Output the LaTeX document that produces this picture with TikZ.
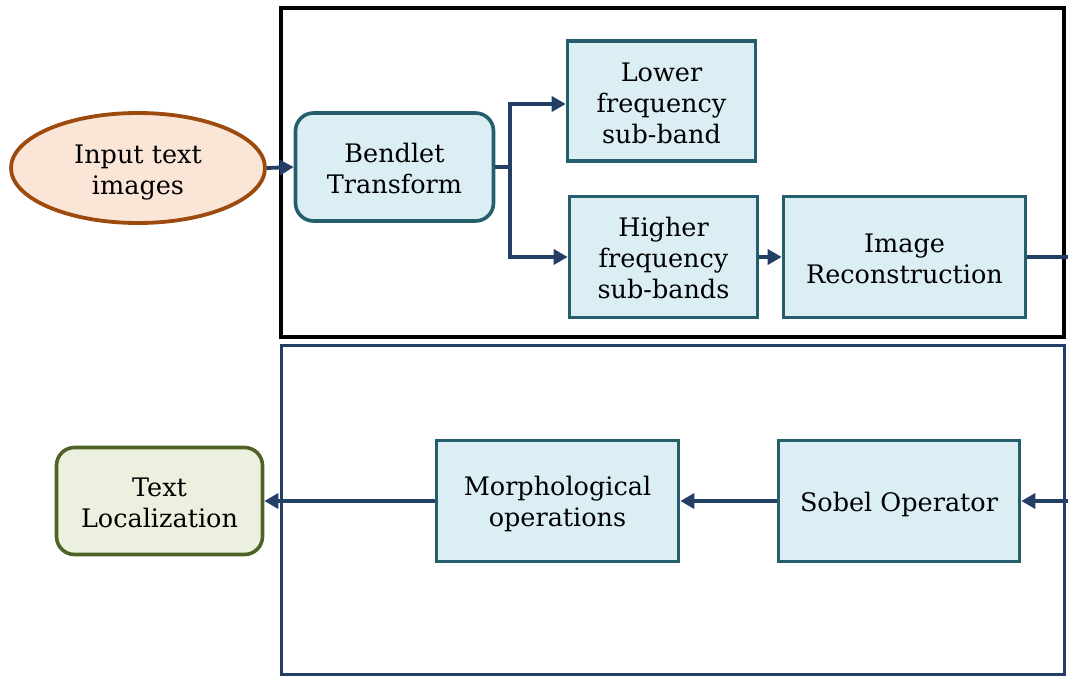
\documentclass[tikz,border=0pt]{standalone}
\usepackage{fontspec}
\setmainfont{DejaVu Serif}
\usetikzlibrary{shapes.geometric,arrows.meta}
\definecolor{navy}{HTML}{243F66}
\definecolor{teal}{HTML}{255E6D}
\definecolor{boxfill}{HTML}{DAEEF3}
\definecolor{ellfill}{HTML}{FBE5D6}
\definecolor{ellline}{HTML}{9C4A0E}
\definecolor{grfill}{HTML}{EBF1DE}
\definecolor{grline}{HTML}{4F6228}
\tikzset{
  txt/.style={align=center,font=\fontsize{25.5}{31}\selectfont,inner sep=0pt},
  sqbox/.style={draw=teal,fill=boxfill,line width=3.6pt,rectangle},
  rbox/.style={sqbox,rounded corners=18pt},
  conn/.style={draw=navy,line width=3.8pt,-{Triangle[length=14pt,width=15pt]}},
  plain/.style={draw=navy,line width=3.8pt},
}
\begin{document}
\begin{tikzpicture}[x=1pt,y=-1pt]
\useasboundingbox (0,0) rectangle (1068,675);
% frames
\draw[black,line width=3.8pt] (281,8) rectangle (1064,337);
\draw[navy,line width=3pt] (281,345) rectangle (1064,674);
% shapes
\node[ellipse,draw=ellline,fill=ellfill,line width=3.8pt,minimum width=254pt,minimum height=110pt] (inp) at (138,168) {};
\node[rbox,minimum width=198pt,minimum height=108pt] (bend) at (394.5,167) {};
\node[sqbox,minimum width=188pt,minimum height=120pt] (low) at (661.5,101) {};
\node[sqbox,minimum width=188pt,minimum height=121pt] (high) at (663.5,257) {};
\node[sqbox,minimum width=242pt,minimum height=121pt] (rec) at (904.5,257) {};
\node[sqbox,minimum width=241pt,minimum height=121pt] (sob) at (899,501) {};
\node[sqbox,minimum width=242pt,minimum height=121pt] (mor) at (557.5,501) {};
\node[draw=grline,fill=grfill,line width=3.6pt,rounded corners=18pt,minimum width=206pt,minimum height=107pt] (loc) at (159.5,501) {};
% texts
\node[txt] (inpT) at ([yshift=-5pt]inp.center) {Input text\\images};
\node[txt] (bendT) at ([yshift=-1pt]bend.center) {Bendlet\\Transform};
\node[txt] (lowT) at ([yshift=-2pt]low.center) {Lower\\frequency\\sub-band};
\node[txt] (highT) at ([yshift=-1pt]high.center) {Higher\\frequency\\sub-bands};
\node[txt] (recT) at ([yshift=-2pt]rec.center) {Image\\Reconstruction};
\node[txt] (sobT) at ([yshift=-3.5pt]sob.center) {Sobel Operator};
\node[txt] (morT) at ([yshift=-3pt]mor.center) {Morphological\\operations};
\node[txt] (locT) at ([yshift=-2pt]loc.center) {Text\\Localization};
% connectors
\draw[conn] (inp.east) -- (bend.west);
\coordinate (b1) at ([xshift=15pt]bend.east);
\draw[plain] (bend.east) -- (b1);
\draw[conn] (b1) |- ([yshift=-3pt]low.west);
\draw[conn] (b1) |- (high.west);
\draw[conn] (high.east) -- (rec.west);
\coordinate (r1) at ([xshift=60pt]rec.east);
\draw[conn] (rec.east) -- (r1) |- (sob.east);
\draw[conn] (sob.west) -- (mor.east);
\draw[conn] (mor.west) -- (loc.east);
\end{tikzpicture}
\end{document}
